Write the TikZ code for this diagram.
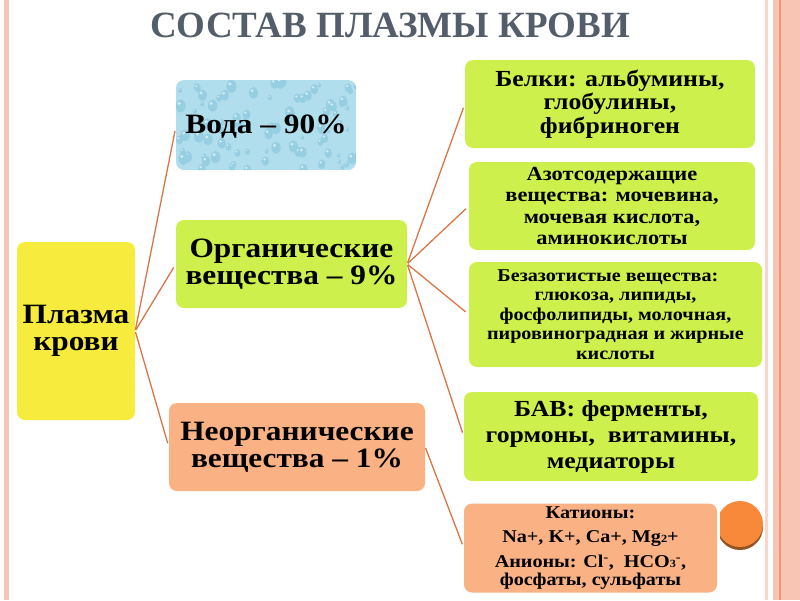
\documentclass[tikz,border=0pt]{standalone}
\usepackage{fontspec}
\setmainfont{Liberation Serif}[FakeStretch=1.12]
\newfontfamily\titlefont{Liberation Serif}
\definecolor{plasmac}{RGB}{247,236,62}
\definecolor{greenc}{RGB}{205,240,76}
\definecolor{salmonc}{RGB}{250,178,132}
\definecolor{orangec}{RGB}{248,136,58}
\definecolor{linkc}{RGB}{217,118,70}
\definecolor{titlec}{RGB}{84,94,106}
\definecolor{framec}{RGB}{248,196,180}
\definecolor{framed}{RGB}{240,150,112}
\definecolor{waterc}{RGB}{176,222,236}
\definecolor{dropc}{RGB}{150,206,226}
\newcommand{\drops}[5]{% x0, y0, width, height, count
\pgfmathsetseed{17}
\foreach \i in {1,...,#5}
{ \pgfmathsetmacro{\dx}{#1+#3*rnd}
\pgfmathsetmacro{\dy}{#2+#4*rnd}
\pgfmathsetmacro{\dr}{1.5+3.5*rnd}
\fill[dropc] (\dx,\dy) ellipse ({\dr} and {1.3*\dr});
\fill[white,opacity=0.6] (\dx-0.3*\dr,\dy-0.5*\dr) circle ({0.35*\dr});
}
}
\begin{document}
\begin{tikzpicture}[x=1pt,y=-1pt,
box/.style={rounded corners=8pt,inner sep=0pt,align=center},
big/.style={font=\bfseries\fontsize{28}{27}\selectfont},
link/.style={draw=linkc,line width=1.3pt,shorten >=4pt,shorten <=1pt}]
\useasboundingbox (0,0) rectangle (800,600);

%%%%% frame
\fill[framec] (4,0) rectangle (9,600);
\fill[framec!70] (765,0) rectangle (768,600);
\fill[framec] (773,0) rectangle (800,600);
\fill[framed] (779,0) rectangle (781,600);

%%%%% title
\node[text=titlec,font=\titlefont\bfseries\fontsize{37}{37}\selectfont] (title) at (390,25) {СОСТАВ ПЛАЗМЫ КРОВИ};

%%%%% water with drops
\begin{scope}
\clip[rounded corners=8pt] (176,80) rectangle (356,170);
\fill[waterc] (176,80) rectangle (356,170);
\drops{176}{80}{180}{90}{90}
\end{scope}

%%%%% boxes
\node[box,big,fill=plasmac,minimum width=118,minimum height=178] (plasma) at (76,331) {Плазма\\крови};
\node[box,big,minimum width=180,minimum height=90] (water) at (266,127) {Вода -- 90\%};
\node[box,big,fill=greenc,minimum width=231,minimum height=88] (organic) at (291.5,264) {Органические\\вещества -- 9\%};
\node[box,big,fill=salmonc,minimum width=256,minimum height=88] (inorganic) at (297,447) {Неорганические\\вещества -- 1\%};

\node[box,fill=greenc,minimum width=290,minimum height=88,font=\bfseries\fontsize{23}{23.5}\selectfont] (proteins) at (610,104) {Белки: альбумины,\\глобулины,\\фибриноген};
\node[box,fill=greenc,minimum width=286,minimum height=88,font=\bfseries\fontsize{20}{21.5}\selectfont] (nitro) at (612,206) {Азотсодержащие\\вещества: мочевина,\\мочевая кислота,\\аминокислоты};
\node[box,fill=greenc,minimum width=293,minimum height=105,font=\bfseries\fontsize{18}{19.5}\selectfont] (nonnitro) at (615.5,314.5) {Безазотистые вещества:\ \ \ \ \\глюкоза, липиды,\\фосфолипиды, молочная,\\пировиноградная и жирные\\кислоты};
\node[box,fill=greenc,minimum width=294,minimum height=89,font=\bfseries\fontsize{23}{26}\selectfont] (bav) at (611,436.5) {БАВ: ферменты,\\гормоны,\ \ витамины,\\медиаторы};
\node[box,fill=salmonc,minimum width=253,minimum height=89,font=\bfseries\fontsize{18}{16}\selectfont] (ions) at (590.5,548) {Катионы:\\[8pt]Na+, K+, Ca+, Mg{\fontsize{11}{11}\selectfont 2}+\\[8pt]Анионы: Cl\textsuperscript{-},\ \ HCO{\fontsize{11}{11}\selectfont 3}\textsuperscript{-},\\[2pt]фосфаты, сульфаты};

%%%%% orange dot
\begin{scope}
\clip (720,490) rectangle (770,560);
\fill[black!40!orangec] (740,527) circle (23);
\fill[orangec] (740,524) circle (23);
\end{scope}

%%%%% links
\draw[link] (plasma.east) -- (water.west);
\draw[link] (plasma.east) -- (organic.west);
\draw[link] (plasma.east) -- (inorganic.west);
\draw[link] (organic.east) -- (proteins.west);
\draw[link] (organic.east) -- (nitro.west);
\draw[link] (organic.east) -- (nonnitro.west);
\draw[link] (organic.east) -- (bav.west);
\draw[link] (inorganic.east) -- (ions.west);

\end{tikzpicture}
\end{document}
